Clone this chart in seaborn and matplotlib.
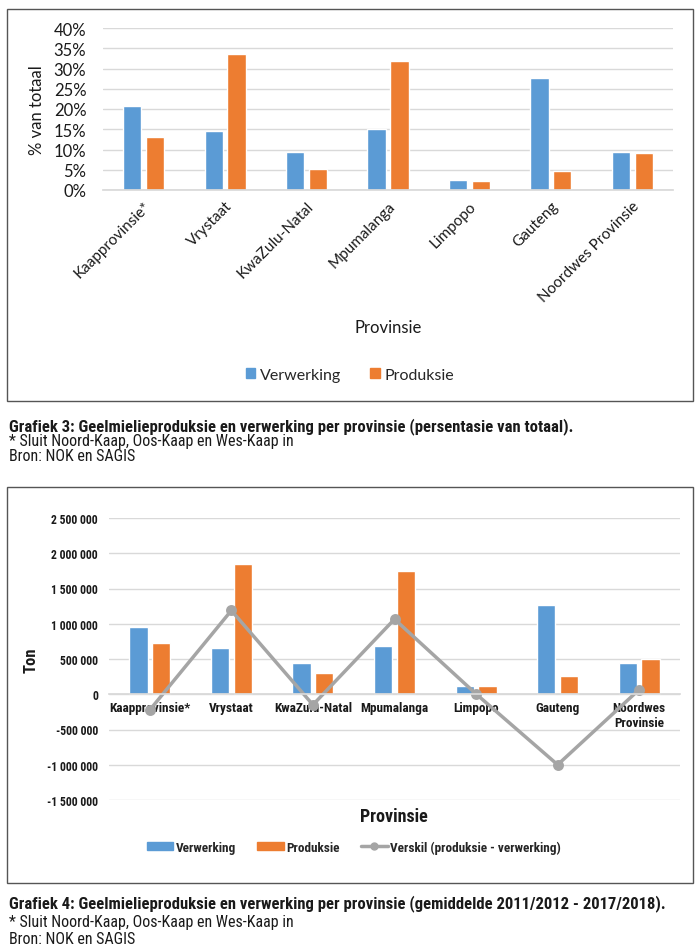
import matplotlib
matplotlib.use("Agg")
import matplotlib.pyplot as plt
from matplotlib import font_manager
from matplotlib.patches import Rectangle, Patch
from matplotlib.lines import Line2D
from matplotlib.ticker import FuncFormatter, MultipleLocator
import seaborn as sns
import pandas as pd

# ---------------- data ----------------
provinces1 = ["Kaapprovinsie*", "Vrystaat", "KwaZulu-Natal", "Mpumalanga",
              "Limpopo", "Gauteng", "Noordwes Provinsie"]
provinces2 = ["Kaapprovinsie*", "Vrystaat", "KwaZulu-Natal", "Mpumalanga",
              "Limpopo", "Gauteng", "Noordwes\nProvinsie"]
series_names = ["Verwerking", "Produksie"]
pct_verwerking = [20.8, 14.6, 9.5, 15.1, 2.5, 27.7, 9.5]
pct_produksie = [13.2, 33.7, 5.3, 31.8, 2.1, 4.8, 9.1]
ton_verwerking = [952000, 663000, 440000, 687000, 114000, 1260000, 440000]
ton_produksie = [729000, 1851000, 298000, 1752000, 118000, 260000, 507000]
ton_verskil = [-223000, 1188000, -150000, 1065000, 4000, -1000000, 67000]
verskil_name = "Verskil (produksie - verwerking)"

caption1 = "Grafiek 3: Geelmielieproduksie en verwerking per provinsie (persentasie van totaal)."
caption2 = "Grafiek 4: Geelmielieproduksie en verwerking per provinsie (gemiddelde 2011/2012 - 2017/2018)."
note = "* Sluit Noord-Kaap, Oos-Kaap en Wes-Kaap in"
source = "Bron: NOK en SAGIS"

BLUE = "#5B9BD5"
ORANGE = "#ED7D31"
GREY = "#A5A5A5"
GRID = "#D9D9D9"
TXT = "#1a1a1a"

sns.set_theme(style="white")
names = {f.name for f in font_manager.fontManager.ttflist}
cond = None
for cand in ["Liberation Sans Narrow", "Roboto Condensed", "DejaVu Sans Condensed"]:
    if cand in names:
        cond = cand
        break
COND = [cond, "DejaVu Sans"] if cond else ["Roboto", "DejaVu Sans"]
SANS = ["Lato", "DejaVu Sans"]
plt.rcParams["font.family"] = SANS

fig = plt.figure(figsize=(7, 9.53), dpi=100)
W, H = 700, 953

def fx(px):
    return px / W

def fy(py):
    return 1 - py / H

# panel borders
for (x0, y0, x1, y1) in [(7, 10, 693, 402), (7, 488, 693, 884)]:
    fig.patches.append(Rectangle((fx(x0), fy(y1)), fx(x1 - x0), (y1 - y0) / H,
                                 transform=fig.transFigure, fill=False,
                                 edgecolor="#555555", linewidth=1.0))

# ---------------- chart 1 ----------------
df1 = pd.DataFrame({
    "Provinsie": provinces1 * 2,
    "Reeks": [series_names[0]] * 7 + [series_names[1]] * 7,
    "Waarde": pct_verwerking + pct_produksie,
})
ax1 = fig.add_axes([fx(103), fy(191), fx(673 - 103), (191 - 29) / H])
sns.barplot(data=df1, x="Provinsie", y="Waarde", hue="Reeks",
            palette=[BLUE, ORANGE], width=0.56, gap=0.2, legend=False,
            saturation=1, ax=ax1, errorbar=None)
ax1.set_ylim(0, 40)
ax1.yaxis.set_major_locator(MultipleLocator(5))
ax1.yaxis.set_major_formatter(FuncFormatter(lambda v, p: f"{v:.0f}%"))
ax1.grid(axis="y", color=GRID, linewidth=1.0)
ax1.set_axisbelow(True)
for s in ["top", "right", "left"]:
    ax1.spines[s].set_visible(False)
ax1.spines["bottom"].set_color(GRID)
ax1.tick_params(axis="y", length=0, labelsize=12, pad=12, labelcolor=TXT)
ax1.tick_params(axis="x", length=0, labelsize=11, pad=6, labelcolor=TXT)
for lab in ax1.get_xticklabels():
    lab.set_rotation(45)
    lab.set_ha("right")
    lab.set_rotation_mode("anchor")
ax1.set_ylabel("% van totaal", fontsize=12, color=TXT, labelpad=6)
ax1.set_xlabel("")
fig.text(fx(388), fy(328), "Provinsie", ha="center", va="center", fontsize=12, color=TXT)
fig.legend(handles=[Patch(color=BLUE, label=series_names[0]),
                    Patch(color=ORANGE, label=series_names[1])],
           loc="center", bbox_to_anchor=(fx(350), fy(376)), ncol=2, frameon=False,
           handlelength=0.6, handleheight=0.6, handletextpad=0.3, columnspacing=1.8,
           prop={"family": SANS, "size": 11.5})

# ---------------- chart 2 ----------------
df2 = pd.DataFrame({
    "Provinsie": provinces2 * 2,
    "Reeks": [series_names[0]] * 7 + [series_names[1]] * 7,
    "Waarde": ton_verwerking + ton_produksie,
})
ax2 = fig.add_axes([fx(109), fy(801), fx(680 - 109), (801 - 519) / H])
sns.barplot(data=df2, x="Provinsie", y="Waarde", hue="Reeks",
            palette=[BLUE, ORANGE], width=0.56, gap=0.2, legend=False,
            saturation=1, ax=ax2, errorbar=None)
sns.pointplot(x=provinces2, y=ton_verskil, color=GREY, markers="o",
              markersize=6, linewidth=2.5, ax=ax2, errorbar=None)
ax2.set_ylim(-1500000, 2500000)
ax2.yaxis.set_major_locator(MultipleLocator(500000))
ax2.yaxis.set_major_formatter(FuncFormatter(
    lambda v, p: f"{v:,.0f}".replace(",", " ")))
ax2.grid(axis="y", color=GRID, linewidth=1.0)
ax2.set_axisbelow(True)
for s in ["top", "right", "left"]:
    ax2.spines[s].set_visible(False)
ax2.spines["bottom"].set_position(("data", 0))
ax2.spines["bottom"].set_color(GRID)
ax2.tick_params(axis="y", length=0, labelsize=8.5, pad=8, labelcolor=TXT)
ax2.tick_params(axis="x", length=0, labelsize=9.5, pad=5, labelcolor=TXT)
for lab in ax2.get_yticklabels() + ax2.get_xticklabels():
    lab.set_family(COND)
    lab.set_fontweight("bold")
ax2.set_xlabel("")
ax2.set_ylabel("")
fig.text(fx(31), fy(660), "Ton", rotation=90, ha="center", va="center",
         fontsize=12, fontweight="bold", family=COND, color=TXT)
fig.text(fx(394), fy(817), "Provinsie", ha="center", va="center",
         fontsize=13, fontweight="bold", family=COND, color=TXT)
fig.legend(handles=[Patch(color=BLUE, label=series_names[0]),
                    Patch(color=ORANGE, label=series_names[1]),
                    Line2D([], [], color=GREY, linewidth=2.5, marker="o",
                           markersize=5, label=verskil_name)],
           loc="center", bbox_to_anchor=(fx(354), fy(848)), ncol=3, frameon=False,
           handlelength=2.0, handleheight=0.6, handletextpad=0.2, columnspacing=1.6,
           prop={"family": COND, "size": 9.5, "weight": "bold"})

# ---------------- captions ----------------
for (py, txt, wt) in [(427, caption1, "bold"), (442, note, "normal"), (457, source, "normal"),
                      (904, caption2, "bold"), (923, note, "normal"), (940, source, "normal")]:
    fig.text(fx(9), fy(py), txt, ha="left", va="center", fontsize=12 if wt == "bold" else 11.5,
             fontweight=wt, family=COND, color=TXT)

fig.savefig("out.png", dpi=100, facecolor="white")
